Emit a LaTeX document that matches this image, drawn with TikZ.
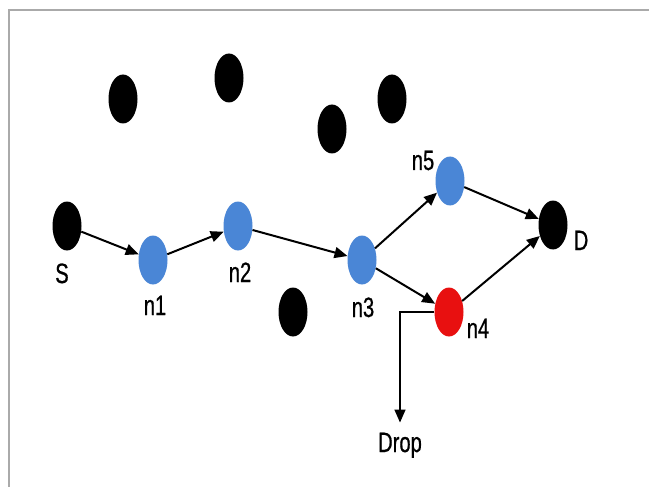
\documentclass[tikz,border=0pt]{standalone}
\usepackage{fontspec}
\newfontfamily\lblfont[FakeStretch=0.72,FakeBold=0.6]{Liberation Sans}
\usetikzlibrary{shapes.geometric,arrows.meta}
\definecolor{nodeblue}{RGB}{74,134,214}
\definecolor{nodered}{RGB}{232,16,16}
\definecolor{framegray}{RGB}{170,170,170}
\begin{document}
\begin{tikzpicture}[x=1pt,y=-1pt,
  vtx/.style={ellipse,minimum width=29pt,minimum height=49pt,inner sep=0pt,draw=none},
  blk/.style={vtx,fill=black},
  blu/.style={vtx,fill=nodeblue},
  rd/.style={vtx,fill=nodered},
  lbl/.style={anchor=base,inner sep=0pt,font=\lblfont\fontsize{28}{30}\selectfont},
  arr/.style={-{Triangle[length=13pt,width=11pt]},line width=2pt,black}]
\useasboundingbox (0,0) rectangle (649,487);
\fill[white] (0,0) rectangle (649,487);
\draw[framegray,line width=2pt] (9,487) -- (9,10) -- (649,10);
% idle nodes
\node[blk] (a1) at (123,99) {};
\node[blk] (a2) at (229,78) {};
\node[blk] (a3) at (332,129) {};
\node[blk] (a4) at (392,99) {};
\node[blk] (a5) at (293,312) {};
% route nodes
\node[blk] (S) at (67,226) {};
\node[blu] (n1) at (153,260) {};
\node[blu] (n2) at (238,226) {};
\node[blu] (n3) at (362,260) {};
\node[blu] (n5) at (450,181) {};
\node[rd]  (n4) at (449,312) {};
\node[blk] (D) at (553,225) {};
% labels
\node[lbl] (lS) at (62,283) {S};
\node[lbl] (l1) at (155,315) {n1};
\node[lbl] (l2) at (240,282) {n2};
\node[lbl] (l3) at (363,317) {n3};
\node[lbl] (l5) at (423,170) {n5};
\node[lbl] (l4) at (478,338) {n4};
\node[lbl] (lD) at (581,250) {D};
\node[lbl] (drop) at (400,452) {Drop};
% connectors
\draw[arr] (S) -- (n1);
\draw[arr] (n1) -- (n2);
\draw[arr] (n2) -- (n3);
\draw[arr] (n3) -- (n5);
\draw[arr] (n3) -- (n4);
\draw[arr] (n5) -- (D);
\draw[arr] (n4) -- (D);
\draw[arr,line width=1.5pt,shorten >=10pt] (n4.west) -| (drop.north);
\end{tikzpicture}
\end{document}
